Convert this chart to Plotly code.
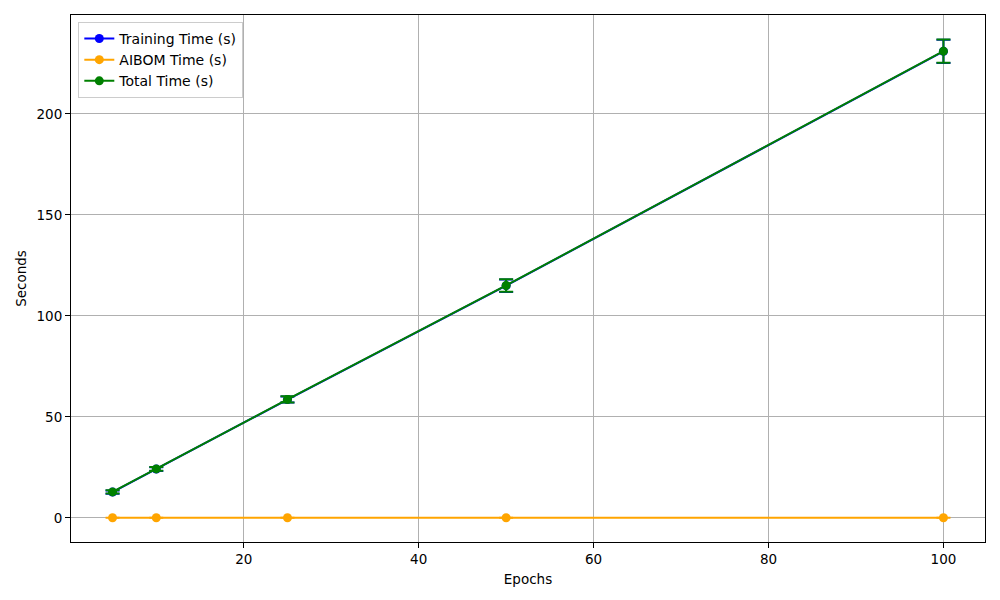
import plotly.graph_objects as go

epochs = [5, 10, 25, 50, 100]
training_time = [12.8, 24.2, 58.6, 115.0, 231.0]
training_std = [0.8, 0.9, 1.5, 3.1, 5.8]
aibom_time = [0.1, 0.1, 0.1, 0.1, 0.1]
aibom_std = [0.01, 0.01, 0.01, 0.01, 0.01]
total_time = [12.9, 24.3, 58.7, 115.1, 231.1]
total_std = [0.8, 0.9, 1.5, 3.1, 5.8]

series = [
    ("Training Time (s)", training_time, training_std, "blue"),
    ("AIBOM Time (s)", aibom_time, aibom_std, "orange"),
    ("Total Time (s)", total_time, total_std, "green"),
]

fig = go.Figure()
for name, vals, errs, color in series:
    fig.add_trace(go.Scatter(
        x=epochs, y=vals, name=name, mode="lines+markers",
        line=dict(color=color, width=2),
        marker=dict(color=color, size=9, symbol="circle"),
        error_y=dict(type="data", array=errs, visible=True, color=color,
                     thickness=2, width=7),
    ))

axis_common = dict(
    showline=True, linecolor="black", linewidth=1, mirror=True,
    showgrid=True, gridcolor="#b0b0b0", gridwidth=1,
    ticks="outside", ticklen=5, tickcolor="black",
    zeroline=False,
    tickfont=dict(family="DejaVu Sans", size=13.5, color="black"),
)

fig.update_layout(
    width=1000, height=600,
    paper_bgcolor="white", plot_bgcolor="white",
    margin=dict(l=63, r=23, t=7, b=66),
    font=dict(family="DejaVu Sans", size=13.5, color="black"),
    showlegend=True,
    legend=dict(x=0.008, y=0.987, xanchor="left", yanchor="top",
                bgcolor="rgba(255,255,255,0.8)", bordercolor="#cccccc",
                borderwidth=1, font=dict(size=14), tracegroupgap=0),
    xaxis=dict(axis_common, range=[0.25, 104.75], tickvals=[20, 40, 60, 80, 100],
               title=dict(text="Epochs", font=dict(size=13.5), standoff=8)),
    yaxis=dict(axis_common, range=[-11.9, 249], tickvals=[0, 50, 100, 150, 200],
               title=dict(text="Seconds", font=dict(size=13.5), standoff=6)),
)

fig.write_html("out.html")
